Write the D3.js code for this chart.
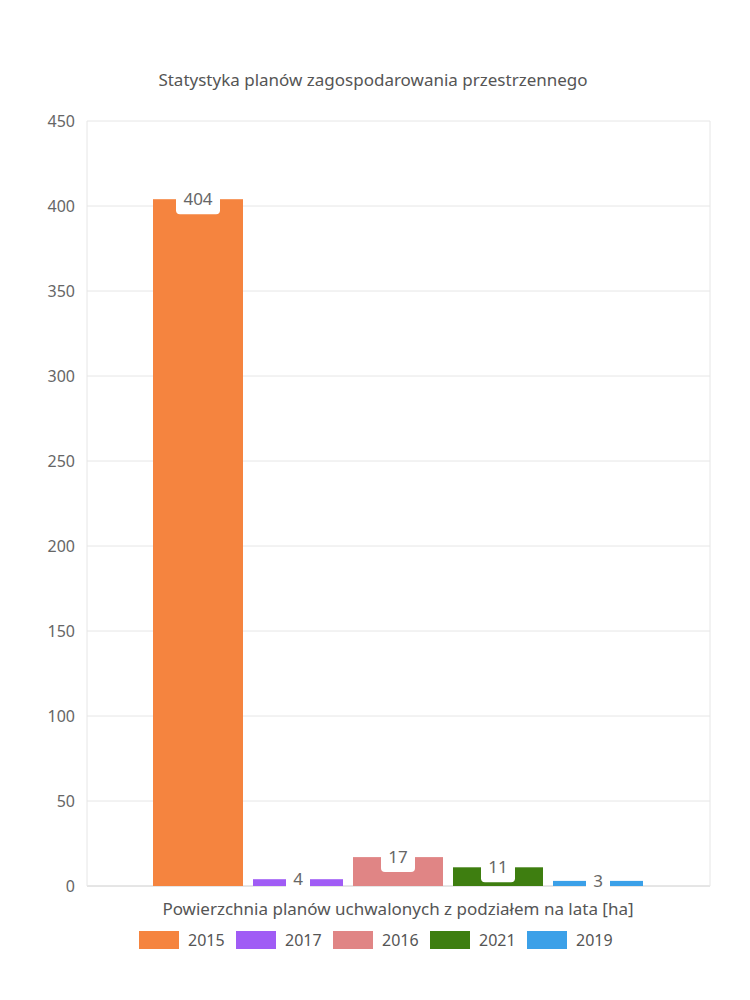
<!DOCTYPE html>
<html><head><meta charset="utf-8">
<script src="https://cdn.jsdelivr.net/npm/d3@7"></script>
<style>body{margin:0;background:#fff;font-family:"Noto Sans",sans-serif;}</style>
</head><body><div id="chart"></div>
<script>
var years = ["2015", "2017", "2016", "2021", "2019"];
var values = [404, 4, 17, 11, 3];
var colors = ["#f5843f", "#a05cf5", "#e08585", "#3e7e10", "#3ba0e8"];
var yTicks = [0, 50, 100, 150, 200, 250, 300, 350, 400, 450];

var W = 750, H = 1000;
var margin = {top: 121, right: 40, bottom: 114, left: 87};
var svg = d3.select("#chart").append("svg").attr("width", W).attr("height", H);
var w = W - margin.left - margin.right, h = H - margin.top - margin.bottom;
var g = svg.append("g").attr("transform", "translate(" + margin.left + "," + margin.top + ")");

var y = d3.scaleLinear().domain([0, 450]).range([h, 0]);
var x = d3.scaleBand().domain(years).range([61, 561]).paddingInner(0.1).paddingOuter(0.05);

// grid
g.selectAll(".grid").data(yTicks).enter().append("line")
    .attr("x1", 0).attr("x2", w).attr("y1", function(d){ return y(d); }).attr("y2", function(d){ return y(d); })
    .attr("stroke", function(d){ return d === 0 ? "#ccc" : "#e6e6e6"; });
g.append("line").attr("x1", 0).attr("x2", 0).attr("y1", 0).attr("y2", h).attr("stroke", "#e6e6e6");
g.append("line").attr("x1", w).attr("x2", w).attr("y1", 0).attr("y2", h).attr("stroke", "#e6e6e6");

g.selectAll(".yl").data(yTicks).enter().append("text")
    .attr("x", -12).attr("y", function(d){ return y(d); }).attr("dy", "0.35em")
    .attr("text-anchor", "end").attr("fill", "#666").attr("font-size", 16).text(function(d){ return d; });

// bars
g.selectAll(".bar").data(values).enter().append("rect")
    .attr("x", function(d, i){ return x(years[i]); }).attr("width", x.bandwidth())
    .attr("y", function(d){ return y(d); }).attr("height", function(d){ return h - y(d); })
    .attr("fill", function(d, i){ return colors[i]; });

// labels
var lab = g.selectAll(".lab").data(values).enter().append("g")
    .attr("transform", function(d, i){ return "translate(" + (x(years[i]) + x.bandwidth() / 2) + "," + y(d) + ")"; });
lab.each(function(d){
    var s = String(d);
    var bw = 10 * s.length + 14;
    d3.select(this).append("rect").attr("x", -bw / 2).attr("y", -10).attr("width", bw).attr("height", 25)
        .attr("rx", 4).attr("fill", "#fff");
    d3.select(this).append("text").attr("y", 6).attr("text-anchor", "middle")
        .attr("fill", "#666").attr("font-size", 17).text(s);
});

svg.append("text").attr("x", W / 2 - 2).attr("y", 86).attr("text-anchor", "middle")
    .attr("fill", "#555").attr("font-size", 17).text("Statystyka planów zagospodarowania przestrzennego");
svg.append("text").attr("x", 398).attr("y", 915).attr("text-anchor", "middle")
    .attr("fill", "#555").attr("font-size", 17).text("Powierzchnia planów uchwalonych z podziałem na lata [ha]");

// legend
var leg = svg.selectAll(".leg").data(years).enter().append("g")
    .attr("transform", function(d, i){ return "translate(" + (139 + i * 97) + ",931)"; });
leg.append("rect").attr("width", 40).attr("height", 18).attr("fill", function(d, i){ return colors[i]; });
leg.append("text").attr("x", 49).attr("y", 15).attr("fill", "#555").attr("font-size", 16).text(function(d){ return d; });
</script></body></html>
